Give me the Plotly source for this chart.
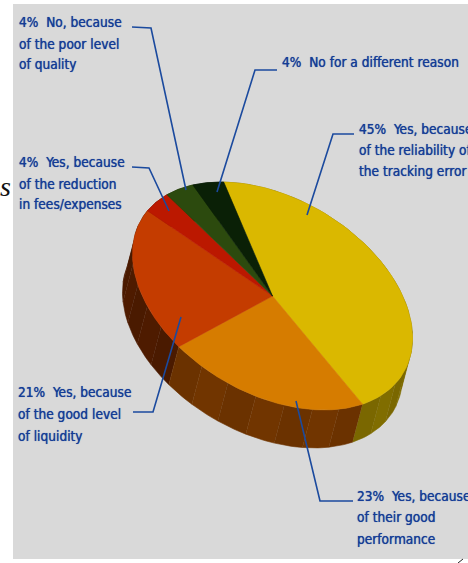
import numpy as np
import plotly.graph_objects as go

# Survey shares, listed clockwise starting from the yellow slice
shares = [45, 23, 21, 4, 4, 4]
top_colors = ["#dab800", "#d67c00", "#c43c00", "#bb1800", "#2c4a0e", "#0a2006"]
side_colors = ["#7d6a00", "#6e3400", "#4c1b00", "#4a1000", "#1a2a08", "#061004"]

# Block labels: left edge, line centres, text lines
label_x = [358, 356, 17, 18, 18, 281]
label_y = [[129, 150, 171], [496, 517, 539], [392, 414, 436],
           [162, 184, 204], [22, 44, 64], [62]]
label_lines = [
    ["45%  Yes, because", "of the reliability of", "the tracking error"],
    ["23%  Yes, because", "of their good", "performance"],
    ["21%  Yes, because", "of the good level", "of liquidity"],
    ["4%  Yes, because", "of the reduction", "in fees/expenses"],
    ["4%  No, because", "of the poor level", "of quality"],
    ["4%  No for a different reason"],
]

# Leader polylines
leader_x = [[354, 333, 307], [353, 320, 296], [133, 153, 181],
            [132, 149, 169], [132, 151, 186], [277, 255, 217]]
leader_y = [[134, 134, 215], [501, 501, 401], [412, 412, 317],
            [167, 168, 211], [27, 28, 190], [70, 70, 192]]

# Projection of the tilted disc onto the page
CX, CY = 272.5, 296.0
A, B = 151.8, 97.7
TILT = np.radians(30.3)
START = np.radians(229.0)
DEPTH_X, DEPTH_Y = -10.0, 38.0


def rim(t):
    x = CX + A * np.cos(t) * np.cos(TILT) - B * np.sin(t) * np.sin(TILT)
    y = CY + A * np.cos(t) * np.sin(TILT) + B * np.sin(t) * np.cos(TILT)
    return x, y


def polygon(x, y, color):
    return go.Scatter(x=list(x), y=list(y), mode="lines", fill="toself",
                      fillcolor=color, line=dict(color=color, width=0.6),
                      hoverinfo="skip", showlegend=False)


def shade(hex_color, factor):
    r, g, b = (int(hex_color[i:i + 2], 16) for i in (1, 3, 5))
    return "rgb({},{},{})".format(*(min(255, int(c * factor)) for c in (r, g, b)))


edges = START + np.concatenate([[0], np.cumsum(shares)]) / sum(shares) * 2 * np.pi

# The outer wall, cut into facets and painted from back to front
facets = []
for i, color in enumerate(side_colors):
    n = max(2, int(round((edges[i + 1] - edges[i]) / np.radians(11))))
    cuts = np.linspace(edges[i], edges[i + 1], n + 1)
    for j in range(n):
        t = np.linspace(cuts[j], cuts[j + 1], 8)
        x, y = rim(t)
        xs = np.concatenate([x, x[::-1] + DEPTH_X])
        ys = np.concatenate([y, y[::-1] + DEPTH_Y])
        facets.append((ys.mean(), xs, ys, shade(color, 0.98 + 0.05 * (j % 2))))
facets.sort(key=lambda f: f[0])

fig = go.Figure()
for _, xs, ys, c in facets:
    fig.add_trace(polygon(xs, ys, c))

# The top face
for i, color in enumerate(top_colors):
    t = np.linspace(edges[i], edges[i + 1], 80)
    x, y = rim(t)
    fig.add_trace(polygon(np.r_[CX, x, CX], np.r_[CY, y, CY], color))

for xs, ys in zip(leader_x, leader_y):
    fig.add_trace(go.Scatter(x=xs, y=ys, mode="lines",
                             line=dict(color="#1b4a9e", width=1.6),
                             hoverinfo="skip", showlegend=False))

annotations = []
for x0, ys, lines in zip(label_x, label_y, label_lines):
    for y0, line in zip(ys, lines):
        annotations.append(dict(x=x0, y=y0, text=line, showarrow=False,
                                xanchor="left", yanchor="middle", borderpad=0,
                                font=dict(family="'DejaVu Sans Condensed', 'Roboto', sans-serif",
                                          size=13.6, color="#143c96",
                                          shadow="0 0 0.7px #143c96")))
annotations.append(dict(x=0, y=186, text="<i>s</i>", showarrow=False, xanchor="left",
                        yanchor="middle", xshift=-2,
                        font=dict(family="Liberation Serif", size=28, color="#111111")))

fig.update_layout(
    width=468, height=563, margin=dict(l=0, r=0, t=0, b=0),
    paper_bgcolor="white", plot_bgcolor="white",
    xaxis=dict(range=[0, 468], visible=False, fixedrange=True),
    yaxis=dict(range=[563, 0], visible=False, fixedrange=True),
    annotations=annotations,
    shapes=[
        dict(type="rect", x0=13, x1=468, y0=4, y1=559, layer="below",
             line=dict(width=0), fillcolor="#d9d9d9"),
        dict(type="line", x0=458, x1=463, y0=563, y1=559, layer="above",
             line=dict(color="#222222", width=1)),
    ],
)
fig.write_html("out.html", config=dict(displayModeBar=False))
